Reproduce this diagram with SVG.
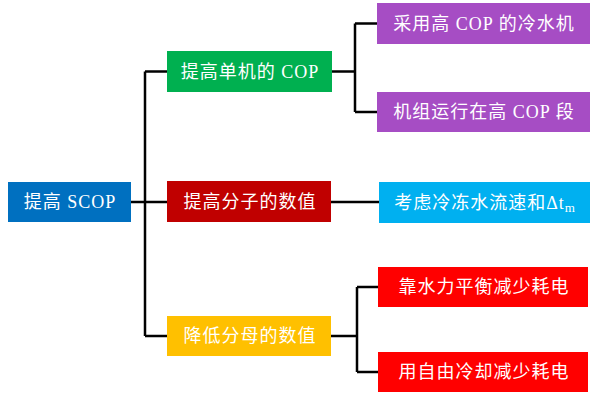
<svg xmlns="http://www.w3.org/2000/svg" width="600" height="406" viewBox="0 0 600 406">
<style>
.t{font-family:"Liberation Serif","Noto Sans CJK SC",serif;font-size:18px;fill:#fff;text-anchor:middle;letter-spacing:1px}
.c{fill:none;stroke:#000;stroke-width:2.5}
</style>
<rect width="600" height="406" fill="#fff"/>
<g id="connectors">
<path class="c" d="M131 202H145M145 71.5V336M145 71.5H167M145 202H167M145 336H167"/>
<path class="c" d="M332 71.5H355M355 23.5V112M355 23.5H377M355 112H377"/>
<path class="c" d="M331 202H379"/>
<path class="c" d="M331 336H357M357 287V372M357 287H378M357 372H378"/>
</g>
<g id="root"><rect x="8" y="182" width="123" height="40" fill="#0070C0"/><text class="t" x="70" y="208">提高 SCOP</text></g>
<g id="n1"><rect x="167" y="51" width="165" height="41" fill="#00B050"/><text class="t" x="250" y="78">提高单机的 COP</text></g>
<g id="n2"><rect x="167" y="181" width="164" height="41" fill="#C00000"/><text class="t" x="250" y="208">提高分子的数值</text></g>
<g id="n3"><rect x="167" y="316" width="164" height="40" fill="#FFC000"/><text class="t" x="250" y="342">降低分母的数值</text></g>
<g id="n11"><rect x="377" y="3" width="213" height="41" fill="#A64DC4"/><text class="t" x="484" y="30">采用高 COP 的冷水机</text></g>
<g id="n12"><rect x="377" y="92" width="213" height="40" fill="#A64DC4"/><text class="t" x="484" y="118">机组运行在高 COP 段</text></g>
<g id="n21"><rect x="379" y="182" width="211" height="41" fill="#00B0F0"/><text class="t" x="485" y="209">考虑冷冻水流速和Δt<tspan font-size="13" dy="3">m</tspan></text></g>
<g id="n31"><rect x="378" y="267" width="210" height="40" fill="#FF0000"/><text class="t" x="484" y="293">靠水力平衡减少耗电</text></g>
<g id="n32"><rect x="378" y="352" width="210" height="40" fill="#FF0000"/><text class="t" x="484" y="378">用自由冷却减少耗电</text></g>
</svg>
